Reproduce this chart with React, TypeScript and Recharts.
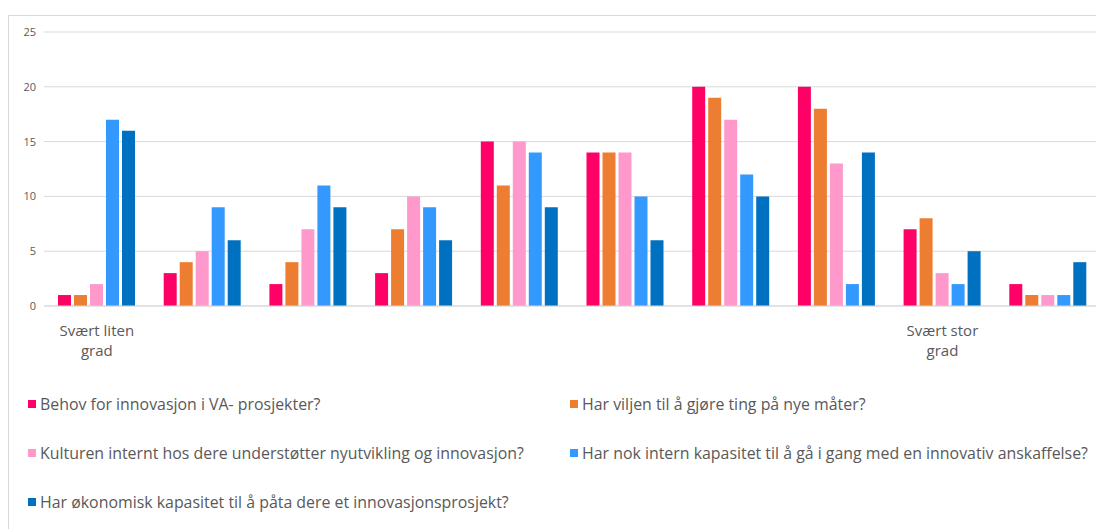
import { BarChart, Bar, XAxis, YAxis, CartesianGrid } from 'recharts'

const categories = ['1', '2', '3', '4', '5', '6', '7', '8', '9', '10']
const tickLabels = ['Svært liten|grad', '', '', '', '', '', '', '', 'Svært stor|grad', '']
const yTicks = [0, 5, 10, 15, 20, 25]

const seriesNames = [
  'Behov for innovasjon i VA- prosjekter?',
  'Har viljen til å gjøre ting på nye måter?',
  'Kulturen internt hos dere understøtter nyutvikling og innovasjon?',
  'Har nok intern kapasitet til å gå i gang med en innovativ anskaffelse?',
  'Har økonomisk kapasitet til å påta dere et innovasjonsprosjekt?',
]
const seriesColors = ['#FF0066', '#ED7D31', '#FF99CC', '#3399FF', '#0070C0']

const behov = [1, 3, 2, 3, 15, 14, 20, 20, 7, 2]
const viljen = [1, 4, 4, 7, 11, 14, 19, 18, 8, 1]
const kulturen = [2, 5, 7, 10, 15, 14, 17, 13, 3, 1]
const kapasitet = [17, 9, 11, 9, 14, 10, 12, 2, 2, 1]
const okonomi = [16, 6, 9, 6, 9, 6, 10, 14, 5, 4]

const seriesValues = [behov, viljen, kulturen, kapasitet, okonomi]

const data = categories.map((c, i) => {
  const row: Record<string, string | number> = { cat: c }
  seriesValues.forEach((vals, s) => {
    row['s' + s] = vals[i]
  })
  return row
})

const font = '"Open Sans", sans-serif'
const textColor = '#595959'

function CatTick(props: any) {
  const { x, y, payload } = props
  const label = tickLabels[categories.indexOf(payload.value)] || ''
  if (!label) return null
  const lines = label.split('|')
  return (
    <text x={x} y={y} textAnchor="middle" fill={textColor} fontSize={15} fontFamily={font}>
      {lines.map((l, i) => (
        <tspan key={i} x={x} dy={i === 0 ? 22 : 20}>{l}</tspan>
      ))}
    </text>
  )
}

export default function App() {
  return (
    <div
      style={{
        position: 'relative',
        width: 1095,
        height: 520,
        marginTop: 7,
        borderTop: '1px solid #d9d9d9',
        borderLeft: '1px solid #d9d9d9',
        background: '#fff',
        fontFamily: font,
      }}
    >
      <BarChart
        width={1095}
        height={360}
        data={data}
        margin={{ top: 16, right: 3, bottom: 0, left: 0 }}
        barGap={3}
        barCategoryGap={14}
      >
        <CartesianGrid vertical={false} stroke="#d9d9d9" />
        <XAxis
          dataKey="cat"
          tick={<CatTick />}
          tickLine={false}
          axisLine={{ stroke: '#d9d9d9' }}
          height={70}
          interval={0}
        />
        <YAxis
          domain={[0, 25]}
          ticks={yTicks}
          width={35}
          axisLine={false}
          tickLine={false}
          tick={{ fill: textColor, fontSize: 11, fontFamily: font }}
        />
        {seriesColors.map((col, s) => (
          <Bar key={s} dataKey={'s' + s} name={seriesNames[s]} fill={col} isAnimationActive={false} />
        ))}
      </BarChart>
      <div style={{ position: 'absolute', left: 0, top: 377, width: 1095 }}>
        {seriesNames.map((n, s) => (
          <div
            key={s}
            style={{
              position: 'absolute',
              left: s % 2 === 0 ? 19 : 561,
              top: Math.floor(s / 2) * 49,
              display: 'flex',
              alignItems: 'center',
              whiteSpace: 'nowrap',
              color: textColor,
              fontSize: 15.9,
              height: 22,
            }}
          >
            <span style={{ display: 'inline-block', width: 8, height: 8, background: seriesColors[s], marginRight: 4 }} />
            {n}
          </div>
        ))}
      </div>
    </div>
  )
}
